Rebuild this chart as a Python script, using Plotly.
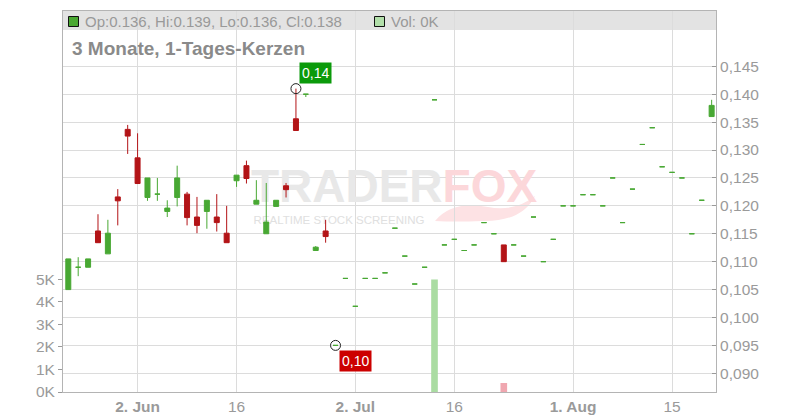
import pandas as pd
import plotly.graph_objects as go

# ---------------- data ----------------
dates = pd.bdate_range("2025-05-22", "2025-08-21").strftime("%Y-%m-%d").tolist()

opens = [0.1050, 0.1090, 0.1090, 0.1155, 0.1114, 0.1216, 0.1337, 0.1286, 0.1215, 0.1221,
         0.1190, 0.1215, 0.1221, 0.1180, 0.1190, 0.1180, 0.1151, 0.1245, 0.1272, 0.1203,
         0.1150, 0.1199, 0.1236, 0.1356, 0.1400, 0.1120, 0.1155, 0.0950, 0.1070, 0.1020,
         0.1070, 0.1070, 0.1080, 0.1160, 0.1110, 0.1060, 0.1090, 0.1390, 0.1130, 0.1140,
         0.1120, 0.1130, 0.1170, 0.1150, 0.1130, 0.1130, 0.1110, 0.1180, 0.1100, 0.1140,
         0.1200, 0.1200, 0.1220, 0.1220, 0.1200, 0.1250, 0.1170, 0.1230, 0.1310, 0.1340,
         0.1270, 0.1260, 0.1250, 0.1150, 0.1210, 0.1360]
highs = [0.1105, 0.1108, 0.1105, 0.1185, 0.1175, 0.1230, 0.1345, 0.1330, 0.1250, 0.1250,
         0.1210, 0.1272, 0.1225, 0.1216, 0.1210, 0.1221, 0.1200, 0.1255, 0.1281, 0.1246,
         0.1241, 0.1210, 0.1241, 0.1410, 0.1400, 0.1128, 0.1175, 0.0950, 0.1070, 0.1020,
         0.1070, 0.1070, 0.1080, 0.1160, 0.1110, 0.1060, 0.1090, 0.1390, 0.1130, 0.1140,
         0.1120, 0.1130, 0.1170, 0.1150, 0.1130, 0.1130, 0.1110, 0.1180, 0.1100, 0.1140,
         0.1200, 0.1200, 0.1220, 0.1220, 0.1200, 0.1250, 0.1170, 0.1230, 0.1310, 0.1340,
         0.1270, 0.1260, 0.1250, 0.1150, 0.1210, 0.1390]
lows = [0.1050, 0.1074, 0.1090, 0.1134, 0.1114, 0.1165, 0.1293, 0.1240, 0.1209, 0.1209,
        0.1180, 0.1199, 0.1165, 0.1151, 0.1159, 0.1154, 0.1134, 0.1234, 0.1240, 0.1203,
        0.1150, 0.1199, 0.1215, 0.1335, 0.1395, 0.1120, 0.1134, 0.0950, 0.1070, 0.1020,
        0.1070, 0.1070, 0.1080, 0.1160, 0.1110, 0.1060, 0.1090, 0.1390, 0.1130, 0.1140,
        0.1120, 0.1130, 0.1170, 0.1150, 0.1100, 0.1130, 0.1110, 0.1180, 0.1100, 0.1140,
        0.1200, 0.1200, 0.1220, 0.1220, 0.1200, 0.1250, 0.1170, 0.1230, 0.1310, 0.1340,
        0.1270, 0.1260, 0.1250, 0.1150, 0.1210, 0.1360]
closes = [0.1105, 0.1090, 0.1105, 0.1134, 0.1151, 0.1209, 0.1325, 0.1240, 0.1250, 0.1221,
          0.1196, 0.1250, 0.1179, 0.1165, 0.1210, 0.1170, 0.1134, 0.1255, 0.1249, 0.1210,
          0.1171, 0.1210, 0.1229, 0.1335, 0.1400, 0.1126, 0.1145, 0.0950, 0.1070, 0.1020,
          0.1070, 0.1070, 0.1080, 0.1160, 0.1110, 0.1060, 0.1090, 0.1390, 0.1130, 0.1140,
          0.1120, 0.1130, 0.1170, 0.1150, 0.1100, 0.1130, 0.1110, 0.1180, 0.1100, 0.1140,
          0.1200, 0.1200, 0.1220, 0.1220, 0.1200, 0.1250, 0.1170, 0.1230, 0.1310, 0.1340,
          0.1270, 0.1260, 0.1250, 0.1150, 0.1210, 0.1380]
volumes = [0] * 37 + [5000] + [0] * 6 + [400] + [0] * 21

price_ticks = [0.090, 0.095, 0.100, 0.105, 0.110, 0.115, 0.120, 0.125, 0.130, 0.135, 0.140, 0.145]
price_tick_labels = ["0,090", "0,095", "0,100", "0,105", "0,110", "0,115",
                     "0,120", "0,125", "0,130", "0,135", "0,140", "0,145"]
vol_ticks = [0, 1000, 2000, 3000, 4000, 5000]
vol_tick_labels = ["0K", "1K", "2K", "3K", "4K", "5K"]
x_tick_dates = ["2025-06-02", "2025-06-16", "2025-07-02", "2025-07-16", "2025-08-01", "2025-08-15"]
x_tick_labels = ["<b>2. Jun</b>", "16", "<b>2. Jul</b>", "16", "<b>1. Aug</b>", "15"]

title_text = "3 Monate, 1-Tages-Kerzen"
high_label = "0,14"
low_label = "0,10"

# ---------------- styling ----------------
GREEN = "#48a833"
RED = "#b31417"
VOL_GREEN = "#aadca2"
VOL_RED = "#f0a7b0"
GRID = "#dcdcdc"
AXIS = "#b4b4b4"
TXT = "#9a9a9a"
FONT = "Liberation Sans, Arial, sans-serif"

n = len(dates)
xs = list(range(n))
pos = {d: i for i, d in enumerate(dates)}

L, R, T, B = 63, 84, 11, 28
W, H = 800, 420
PW, PH = W - L - R, H - T - B
X_RANGE = [-0.535, 65.44]
PRICE_RANGE = [0.08665, 0.15491]
VOL_RANGE = [0, 16930]


def fx(px):
    return (px - L) / PW


def fy(py):
    return (H - B - py) / PH


def px2x(px):
    return X_RANGE[0] + fx(px) * (X_RANGE[1] - X_RANGE[0])


def py2vol(py):
    return VOL_RANGE[0] + fy(py) * (VOL_RANGE[1] - VOL_RANGE[0])


fig = go.Figure()

# watermark (main subplot, drawn beneath the price overlay)
fig.add_trace(go.Scatter(
    x=[px2x(394), px2x(339)], y=[py2vol(190), py2vol(221)], yaxis="y", mode="text",
    text=["<b><span style='color:#e8e8e8'>TRADER</span><span style='color:#fcd7da'>FOX</span></b>",
          "REALTIME STOCK SCREENING"],
    textposition="middle center",
    textfont=dict(family=FONT, size=[46, 11.5], color=["#e8e8e8", "#e0e0e0"]),
    hoverinfo="skip", showlegend=False, cliponaxis=False,
))

# volume bars (left axis)
fig.add_trace(go.Bar(
    x=xs, y=volumes, yaxis="y", width=0.67,
    marker=dict(color=[VOL_GREEN if closes[i] >= opens[i] else VOL_RED for i in xs], line=dict(width=0)),
    hoverinfo="skip", showlegend=False,
))

# candles (price axis, overlay)
up = [i for i in xs if closes[i] >= opens[i]]
dn = [i for i in xs if closes[i] < opens[i]]
for idx, col in ((up, GREEN), (dn, RED)):
    side = dict(line=dict(color=col, width=1), fillcolor=col)
    fig.add_trace(go.Candlestick(
        x=[xs[i] for i in idx], yaxis="y2",
        open=[opens[i] for i in idx], high=[highs[i] for i in idx],
        low=[lows[i] for i in idx], close=[closes[i] for i in idx],
        increasing=side, decreasing=side, whiskerwidth=0,
        hoverinfo="skip", showlegend=False,
    ))

# high / low markers
hi_i = max(xs, key=lambda i: highs[i])
lo_i = min(xs, key=lambda i: lows[i])
fig.add_trace(go.Scatter(
    x=[hi_i, lo_i], y=[highs[hi_i], lows[lo_i]], yaxis="y2", mode="markers",
    marker=dict(symbol="circle-open", size=10, color="#222222", line=dict(width=1, color="#222222")),
    hoverinfo="skip", showlegend=False,
))

annotations = [
    dict(x=hi_i, y=highs[hi_i], xref="x", yref="y2", text=high_label, showarrow=False,
         xanchor="left", yanchor="bottom", xshift=3, yshift=5, bgcolor="#0b9a0b",
         font=dict(family=FONT, size=14, color="white"), borderpad=2),
    dict(x=lo_i, y=lows[lo_i], xref="x", yref="y2", text=low_label, showarrow=False,
         xanchor="left", yanchor="top", xshift=3, yshift=-5, bgcolor="#cc0000",
         font=dict(family=FONT, size=14, color="white"), borderpad=2),
    dict(x=fx(83), y=fy(21), xref="paper", yref="paper", xanchor="left", yanchor="middle",
         showarrow=False,
         text=f"Op:{opens[-1]:.3f}, Hi:{highs[-1]:.3f}, Lo:{lows[-1]:.3f}, Cl:{closes[-1]:.3f}",
         font=dict(family=FONT, size=15, color="#999999")),
    dict(x=fx(389), y=fy(21), xref="paper", yref="paper", xanchor="left", yanchor="middle",
         showarrow=False, text=f"Vol: {volumes[-1] / 1000:.0f}K",
         font=dict(family=FONT, size=15, color="#999999")),
    dict(x=fx(70), y=fy(48), xref="paper", yref="paper", xanchor="left", yanchor="middle",
         showarrow=False, text=f"<b>{title_text}</b>",
         font=dict(family=FONT, size=19, color="#8a8a8a")),
]


def ppath(points):
    cmd = []
    for c, pts in points:
        cmd.append(c + " " + " ".join(f"{fx(px):.5f},{fy(py):.5f}" for px, py in pts))
    return " ".join(cmd) + " Z"


fox_tail = ppath([
    ("M", [(435, 221)]),
    ("Q", [(452, 200), (488, 207)]),
    ("Q", [(515, 212), (535, 196)]),
    ("Q", [(522, 222), (482, 221)]),
    ("Q", [(455, 222), (435, 221)]),
])

shapes = [
    dict(type="rect", xref="paper", yref="paper", x0=0, x1=1, y0=fy(30), y1=1,
         fillcolor="#e3e3e3", line=dict(width=0), layer="below"),
    dict(type="path", xref="paper", yref="paper", path=fox_tail,
         fillcolor="#fde2e4", line=dict(width=0), layer="below"),
    dict(type="rect", xref="paper", yref="paper", x0=fx(68.5), x1=fx(78.5), y0=fy(26.5), y1=fy(16.5),
         fillcolor="#4aa832", line=dict(color="#111111", width=1)),
    dict(type="rect", xref="paper", yref="paper", x0=fx(374.5), x1=fx(384.5), y0=fy(26.5), y1=fy(16.5),
         fillcolor="#b2dfaa", line=dict(color="#111111", width=1)),
]

fig.update_layout(
    width=W, height=H, margin=dict(l=L, r=R, t=T, b=B, pad=0, autoexpand=False),
    paper_bgcolor="white", plot_bgcolor="white",
    font=dict(family=FONT, size=15, color=TXT),
    showlegend=False, hovermode=False, boxgap=0.28,
    annotations=annotations, shapes=shapes,
    xaxis=dict(
        range=X_RANGE, tickvals=[pos[d] for d in x_tick_dates], ticktext=x_tick_labels,
        showgrid=True, gridcolor=GRID, gridwidth=1, showline=True, linecolor=AXIS, mirror=True,
        ticks="", zeroline=False, rangeslider=dict(visible=False), automargin=False,
        tickfont=dict(family=FONT, size=15.5, color=TXT),
    ),
    yaxis=dict(
        side="left", range=VOL_RANGE, tickvals=vol_ticks, ticktext=vol_tick_labels,
        showgrid=False, showline=True, linecolor=AXIS, ticks="outside", ticklen=4,
        tickcolor="#9a9a9a", zeroline=False, automargin=False,
        tickfont=dict(family=FONT, size=15.5, color=TXT),
    ),
    yaxis2=dict(
        overlaying="y", side="right", range=PRICE_RANGE, tickvals=price_ticks,
        ticktext=price_tick_labels,
        showgrid=True, gridcolor=GRID, gridwidth=1, showline=True, linecolor=AXIS,
        ticks="inside", ticklen=4, tickcolor="#9a9a9a", zeroline=False, automargin=False,
        tickfont=dict(family=FONT, size=15.5, color=TXT),
    ),
)

fig.write_html("out.html", config={"displayModeBar": False, "staticPlot": True},
               post_script="document.body.style.margin='0';")
